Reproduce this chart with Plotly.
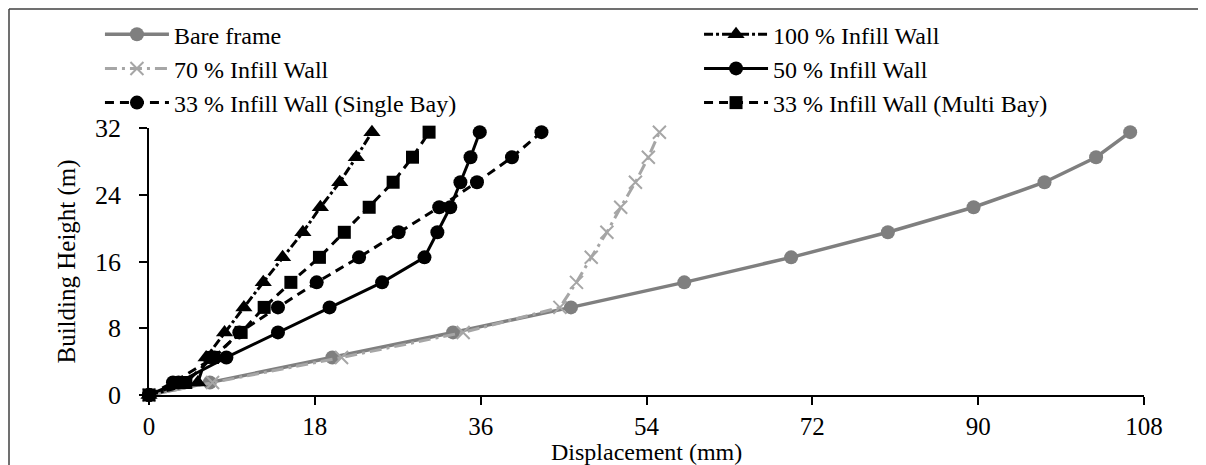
import plotly.graph_objects as go

heights = [0, 1.5, 4.5, 7.5, 10.5, 13.5, 16.5, 19.5, 22.5, 25.5, 28.5, 31.5]

bare_frame = [0, 6.6, 19.9, 33.0, 45.8, 58.1, 69.7, 80.2, 89.5, 97.2, 102.8, 106.5]
infill_100 = [0, 5.3, 6.2, 8.2, 10.3, 12.4, 14.5, 16.7, 18.6, 20.7, 22.5, 24.2]
infill_70 = [0, 6.9, 20.9, 34.1, 44.6, 46.4, 48.0, 49.7, 51.2, 52.8, 54.2, 55.4]
infill_50 = [0, 3.2, 8.4, 14.0, 19.6, 25.3, 29.9, 31.3, 32.7, 33.8, 34.9, 35.9]
infill_33_single = [0, 2.6, 7.1, 9.8, 14.0, 18.2, 22.8, 27.1, 31.5, 35.6, 39.4, 42.6]
infill_33_multi = [0, 4.0, 6.9, 10.0, 12.5, 15.4, 18.5, 21.2, 23.9, 26.5, 28.6, 30.4]

x_ticks = [0, 18, 36, 54, 72, 90, 108]
y_ticks = [0, 8, 16, 24, 32]

FONT = "Liberation Serif"

series = [
    ("Bare frame", bare_frame, dict(color="#7f7f7f", width=3.5, dash="solid"),
     dict(symbol="circle", size=14, color="#7f7f7f"), "legend"),
    ("70 % Infill Wall", infill_70, dict(color="#a6a6a6", width=3, dash="12px,5px,3px,5px"),
     dict(symbol="x-thin", size=13, color="#a6a6a6", line=dict(color="#a6a6a6", width=2)), "legend"),
    ("33 % Infill Wall (Single Bay)", infill_33_single, dict(color="black", width=3, dash="9px,6px"),
     dict(symbol="circle", size=14, color="black"), "legend"),
    ("100 % Infill Wall", infill_100, dict(color="black", width=3, dash="dashdot"),
     dict(symbol="triangle-up", size=15, color="black"), "legend2"),
    ("50 % Infill Wall", infill_50, dict(color="black", width=3, dash="solid"),
     dict(symbol="circle", size=14, color="black"), "legend2"),
    ("33 % Infill Wall (Multi Bay)", infill_33_multi, dict(color="black", width=3, dash="9px,6px"),
     dict(symbol="square", size=13, color="black"), "legend2"),
]

fig = go.Figure()
for name, xs, line, marker, lg in series:
    fig.add_trace(go.Scatter(x=xs, y=heights, mode="lines+markers", name=name,
                             line=line, marker=marker, cliponaxis=False, legend=lg))

legend_common = dict(orientation="v", xanchor="left", yanchor="top", itemwidth=64,
                     font=dict(family=FONT, size=24, color="black"),
                     bgcolor="rgba(0,0,0,0)", traceorder="normal")

fig.update_layout(
    width=1206, height=465,
    margin=dict(l=141, r=70, t=120, b=78, autoexpand=False),
    paper_bgcolor="white", plot_bgcolor="white",
    font=dict(family=FONT, size=24, color="black"),
    showlegend=True,
    legend=dict(x=-0.0493, y=1.434, **legend_common),
    legend2=dict(x=0.5528, y=1.434, **legend_common),
    xaxis=dict(range=[0, 108], tickvals=x_ticks, ticktext=[str(v) for v in x_ticks],
               showgrid=False, zeroline=False, showline=True, linecolor="black", linewidth=1.5,
               ticks="outside", ticklen=8, tickcolor="black", tickwidth=1.5,
               ticklabelstandoff=0,
               tickfont=dict(family=FONT, size=25)),
    yaxis=dict(range=[0, 32], tickvals=y_ticks, ticktext=[str(v) for v in y_ticks],
               showgrid=False, zeroline=False, showline=True, linecolor="black", linewidth=1.5,
               ticks="outside", ticklen=8, tickcolor="black", tickwidth=1.5,
               ticklabelstandoff=13,
               tickfont=dict(family=FONT, size=26)),
    annotations=[
        dict(text="Displacement (mm)", xref="paper", yref="paper", x=0.5, y=-0.214,
             xanchor="center", yanchor="middle", showarrow=False,
             font=dict(family=FONT, size=24, color="black")),
        dict(text="Building Height (m)", xref="paper", yref="paper", x=-0.0834, y=0.5,
             xanchor="center", yanchor="middle", showarrow=False, textangle=-90,
             font=dict(family=FONT, size=25, color="black")),
    ],
    shapes=[
        dict(type="line", xref="paper", yref="paper", x0=-0.1407, x1=1.2, y0=1.4457, y1=1.4457,
             line=dict(color="#404040", width=1.5)),
        dict(type="line", xref="paper", yref="paper", x0=-0.1407, x1=-0.1407, y0=-0.4, y1=1.4457,
             line=dict(color="#404040", width=1.5)),
    ],
)

fig.write_html("out.html")
